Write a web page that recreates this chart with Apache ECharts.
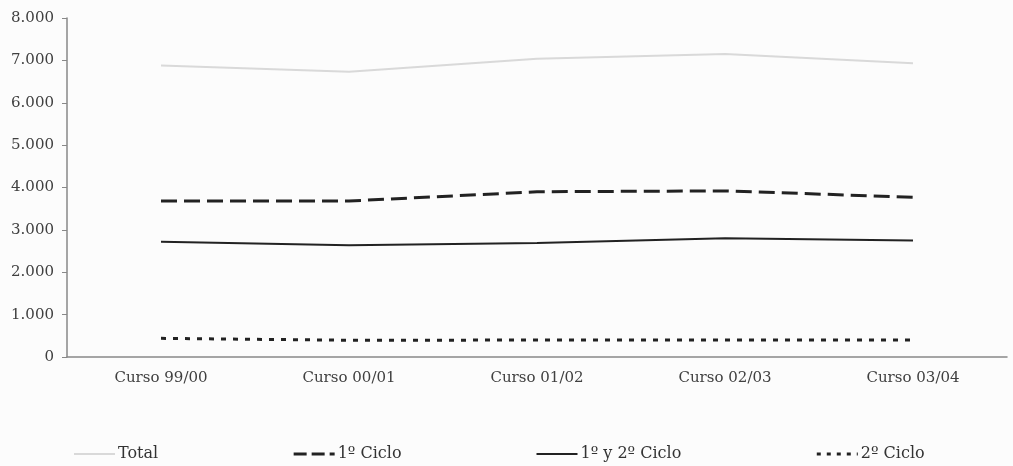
<!DOCTYPE html>
<html>
<head>
<meta charset="utf-8">
<script src="https://cdn.jsdelivr.net/npm/echarts@6/dist/echarts.min.js"></script>
<style>
  html, body { margin: 0; padding: 0; background: #fcfcfc; }
  #chart { width: 1013px; height: 466px; }
</style>
</head>
<body>
<div id="chart"></div>
<script>
const cursos = ['Curso 99/00', 'Curso 00/01', 'Curso 01/02', 'Curso 02/03', 'Curso 03/04'];
const total = [6880, 6730, 7040, 7150, 6930];
const primerCiclo = [3680, 3680, 3900, 3920, 3770];
const primerSegundo = [2720, 2640, 2690, 2800, 2750];
const segundoCiclo = [440, 395, 400, 400, 400];

const serif = 'DejaVu Serif';

let myChart = echarts.init(document.getElementById('chart'));
const option = {
    backgroundColor: '#fcfcfc',
    animation: false,
    grid: { left: 67, right: 6, top: 18, bottom: 109 },
    legend: {
        left: 73,
        top: 446,
        padding: 0,
        itemWidth: 41,
        itemHeight: 16,
        itemGap: 134,
        itemStyle: { opacity: 0 },
        textStyle: { fontFamily: serif, fontSize: 16, color: '#333', padding: [0, 0, 0, -2] },
        data: [
            { name: 'Total' },
            { name: '1º Ciclo', lineStyle: { type: [13, 5], width: 3 } },
            { name: '1º y 2º Ciclo' },
            { name: '2º Ciclo', lineStyle: { type: [4, 6], width: 3 } }
        ]
    },
    xAxis: {
        type: 'category',
        data: cursos,
        axisLine: { lineStyle: { color: '#888', width: 1.5 } },
        axisTick: { show: false },
        axisLabel: { fontFamily: serif, fontSize: 15, color: '#404040', margin: 14 }
    },
    yAxis: {
        type: 'value',
        min: 0,
        max: 8000,
        interval: 1000,
        axisLine: { show: true, lineStyle: { color: '#888', width: 1.5 } },
        axisTick: { show: true, length: 5, lineStyle: { color: '#888' } },
        splitLine: { show: false },
        axisLabel: {
            fontFamily: serif, fontSize: 15, color: '#404040', margin: 13,
            formatter: v => v === 0 ? '0' : (v / 1000) + '.000'
        }
    },
    series: [
        {
            name: 'Total', type: 'line', data: total, symbol: 'none',
            lineStyle: { color: '#d9d9d9', width: 2 },
            itemStyle: { color: '#d9d9d9' }
        },
        {
            name: '1º Ciclo', type: 'line', data: primerCiclo, symbol: 'none',
            lineStyle: { color: '#222', width: 3, type: [16, 7] },
            itemStyle: { color: '#222' }
        },
        {
            name: '1º y 2º Ciclo', type: 'line', data: primerSegundo, symbol: 'none',
            lineStyle: { color: '#222', width: 2 },
            itemStyle: { color: '#222' }
        },
        {
            name: '2º Ciclo', type: 'line', data: segundoCiclo, symbol: 'none',
            lineStyle: { color: '#222', width: 3, type: [5, 7] },
            itemStyle: { color: '#222' }
        }
    ]
};
myChart.setOption(option);
</script>
</body>
</html>
